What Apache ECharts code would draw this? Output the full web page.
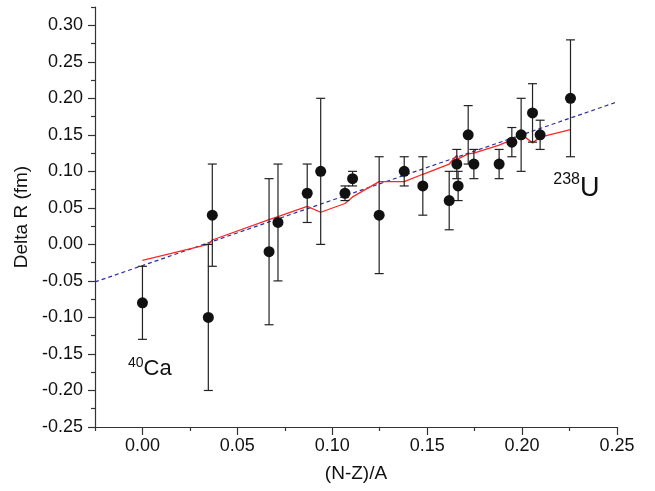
<!DOCTYPE html>
<html>
<head>
<meta charset="utf-8">
<script src="https://cdn.jsdelivr.net/npm/echarts@6/dist/echarts.min.js"></script>
<style>
html,body{margin:0;padding:0;background:#fff;}
#chart{width:655px;height:491px;}
</style>
</head>
<body>
<div id="chart"></div>
<script>
// (N-Z)/A of each nucleus
const asymmetry = [0, 0.0347, 0.0368, 0.0667, 0.0714, 0.0868, 0.0939, 0.1067, 0.1107, 0.1247, 0.1379, 0.1477, 0.1616, 0.1656, 0.1663, 0.1716, 0.1746, 0.1879, 0.1946, 0.1995, 0.2055, 0.2095, 0.2255];
// measured Delta R (fm)
const deltaR = [-0.08, -0.10, 0.04, -0.01, 0.03, 0.07, 0.10, 0.07, 0.09, 0.04, 0.10, 0.08, 0.06, 0.11, 0.08, 0.15, 0.11, 0.11, 0.14, 0.15, 0.18, 0.15, 0.20];
// error (+/-)
const deltaRErr = [0.05, 0.10, 0.07, 0.10, 0.08, 0.04, 0.10, 0.01, 0.01, 0.08, 0.02, 0.04, 0.04, 0.02, 0.02, 0.04, 0.02, 0.02, 0.02, 0.05, 0.04, 0.02, 0.08];
// model (red line)
const modelR = [-0.022, 0.000, 0.006, 0.034, 0.038, 0.052, 0.044, 0.056, 0.065, 0.086, 0.086, 0.096, 0.110, 0.122, 0.117, 0.124, 0.125, 0.136, 0.143, 0.151, 0.139, 0.147, 0.157];
// linear fit (blue dashed)
const fitX = [-0.025, 0.25];
const fitY = [-0.0514, 0.195];
// ticks
const xMajorTicks = [0, 0.05, 0.10, 0.15, 0.20, 0.25];
const xMinorTicks = [-0.025, 0.025, 0.075, 0.125, 0.175, 0.225];
const yMajorTicks = [-0.25, -0.20, -0.15, -0.10, -0.05, 0, 0.05, 0.10, 0.15, 0.20, 0.25, 0.30];
const yMinorTicks = [-0.225, -0.175, -0.125, -0.075, -0.025, 0.025, 0.075, 0.125, 0.175, 0.225, 0.275, 0.325];
// annotations
const annotations = [
  { sup: '40', base: 'Ca', x: 0.0039, y: -0.171, supSize: 14, baseSize: 22 },
  { sup: '238', base: 'U', x: 0.2286, y: 0.077, supSize: 16, baseSize: 27 }
];

const FONT = '"Liberation Sans", Arial, Helvetica, sans-serif';
const TXT = '#111';

const chart = echarts.init(document.getElementById('chart'), null, { renderer: 'canvas' });

const points = asymmetry.map((x, i) => [x, deltaR[i]]);
const errData = asymmetry.map((x, i) => [x, deltaR[i] - deltaRErr[i], deltaR[i] + deltaRErr[i]]);
const modelData = asymmetry.map((x, i) => [x, modelR[i]]);
const fitData = fitX.map((x, i) => [x, fitY[i]]);

function baseAxis(extra) {
  return Object.assign({
    type: 'value',
    splitLine: { show: false },
    axisLine: { show: true, onZero: false, lineStyle: { color: '#333', width: 1.2 } }
  }, extra);
}

const option = {
  backgroundColor: '#fff',
  animation: false,
  grid: { left: 95, right: 38, top: 7, bottom: 64 },
  xAxis: [
    baseAxis({
      min: -0.025, max: 0.25, position: 'bottom',
      name: '(N-Z)/A', nameLocation: 'middle', nameGap: 37,
      nameTextStyle: { fontFamily: FONT, fontSize: 19, color: TXT },
      axisTick: { show: true, length: 8, customValues: xMajorTicks, lineStyle: { color: '#333', width: 1.2 } },
      axisLabel: { customValues: xMajorTicks, margin: 10, fontFamily: FONT, fontSize: 18, color: TXT,
        formatter: v => v.toFixed(2) }
    }),
    baseAxis({
      min: -0.025, max: 0.25, position: 'bottom', offset: 0,
      axisLine: { show: false, onZero: false },
      axisTick: { show: true, length: 4, customValues: xMinorTicks, lineStyle: { color: '#333', width: 1.2 } },
      axisLabel: { show: false }
    })
  ],
  yAxis: [
    baseAxis({
      min: -0.25, max: 0.325, position: 'left',
      name: 'Delta R (fm)', nameLocation: 'middle', nameGap: 62,
      nameTextStyle: { fontFamily: FONT, fontSize: 19, color: TXT },
      axisTick: { show: true, length: 7, customValues: yMajorTicks, lineStyle: { color: '#333', width: 1.2 } },
      axisLabel: { customValues: yMajorTicks, margin: 12, fontFamily: FONT, fontSize: 18, color: TXT,
        formatter: v => v.toFixed(2) }
    }),
    baseAxis({
      min: -0.25, max: 0.325, position: 'left', offset: 0,
      axisLine: { show: false, onZero: false },
      axisTick: { show: true, length: 4, customValues: yMinorTicks, lineStyle: { color: '#333', width: 1.2 } },
      axisLabel: { show: false }
    })
  ],
  series: [
    {
      type: 'line', data: fitData, showSymbol: false, symbol: 'none', z: 2,
      lineStyle: { color: '#2b2f9e', width: 1.2, type: [4, 3] }
    },
    {
      type: 'line', data: modelData, showSymbol: false, symbol: 'none', z: 3,
      lineStyle: { color: '#ff2626', width: 1.3 }
    },
    {
      type: 'custom', data: errData, z: 4,
      renderItem: function (params, api) {
        const x = api.value(0);
        const lo = api.coord([x, api.value(1)]);
        const hi = api.coord([x, api.value(2)]);
        const hw = 4.5;
        const style = { stroke: '#222', lineWidth: 1.2, fill: null };
        return {
          type: 'group',
          children: [
            { type: 'line', shape: { x1: lo[0], y1: lo[1], x2: hi[0], y2: hi[1] }, style: style },
            { type: 'line', shape: { x1: lo[0] - hw, y1: lo[1], x2: lo[0] + hw, y2: lo[1] }, style: style },
            { type: 'line', shape: { x1: hi[0] - hw, y1: hi[1], x2: hi[0] + hw, y2: hi[1] }, style: style }
          ]
        };
      }
    },
    {
      type: 'scatter', data: points, symbol: 'circle', symbolSize: 11, z: 5,
      itemStyle: { color: '#111', opacity: 1 }
    },
    {
      type: 'scatter', symbolSize: 0, z: 6, silent: true,
      itemStyle: { opacity: 1 },
      data: annotations.map(a => ({
        value: [a.x, a.y],
        label: {
          show: true, position: 'inside',
          formatter: '{s|' + a.sup + '}{b|' + a.base + '}',
          rich: {
            s: { fontFamily: FONT, fontSize: a.supSize, color: TXT, verticalAlign: 'top', lineHeight: a.baseSize * 1.2 },
            b: { fontFamily: FONT, fontSize: a.baseSize, color: TXT, lineHeight: a.baseSize * 1.2 }
          }
        }
      }))
    }
  ]
};

chart.setOption(option);
</script>
</body>
</html>
